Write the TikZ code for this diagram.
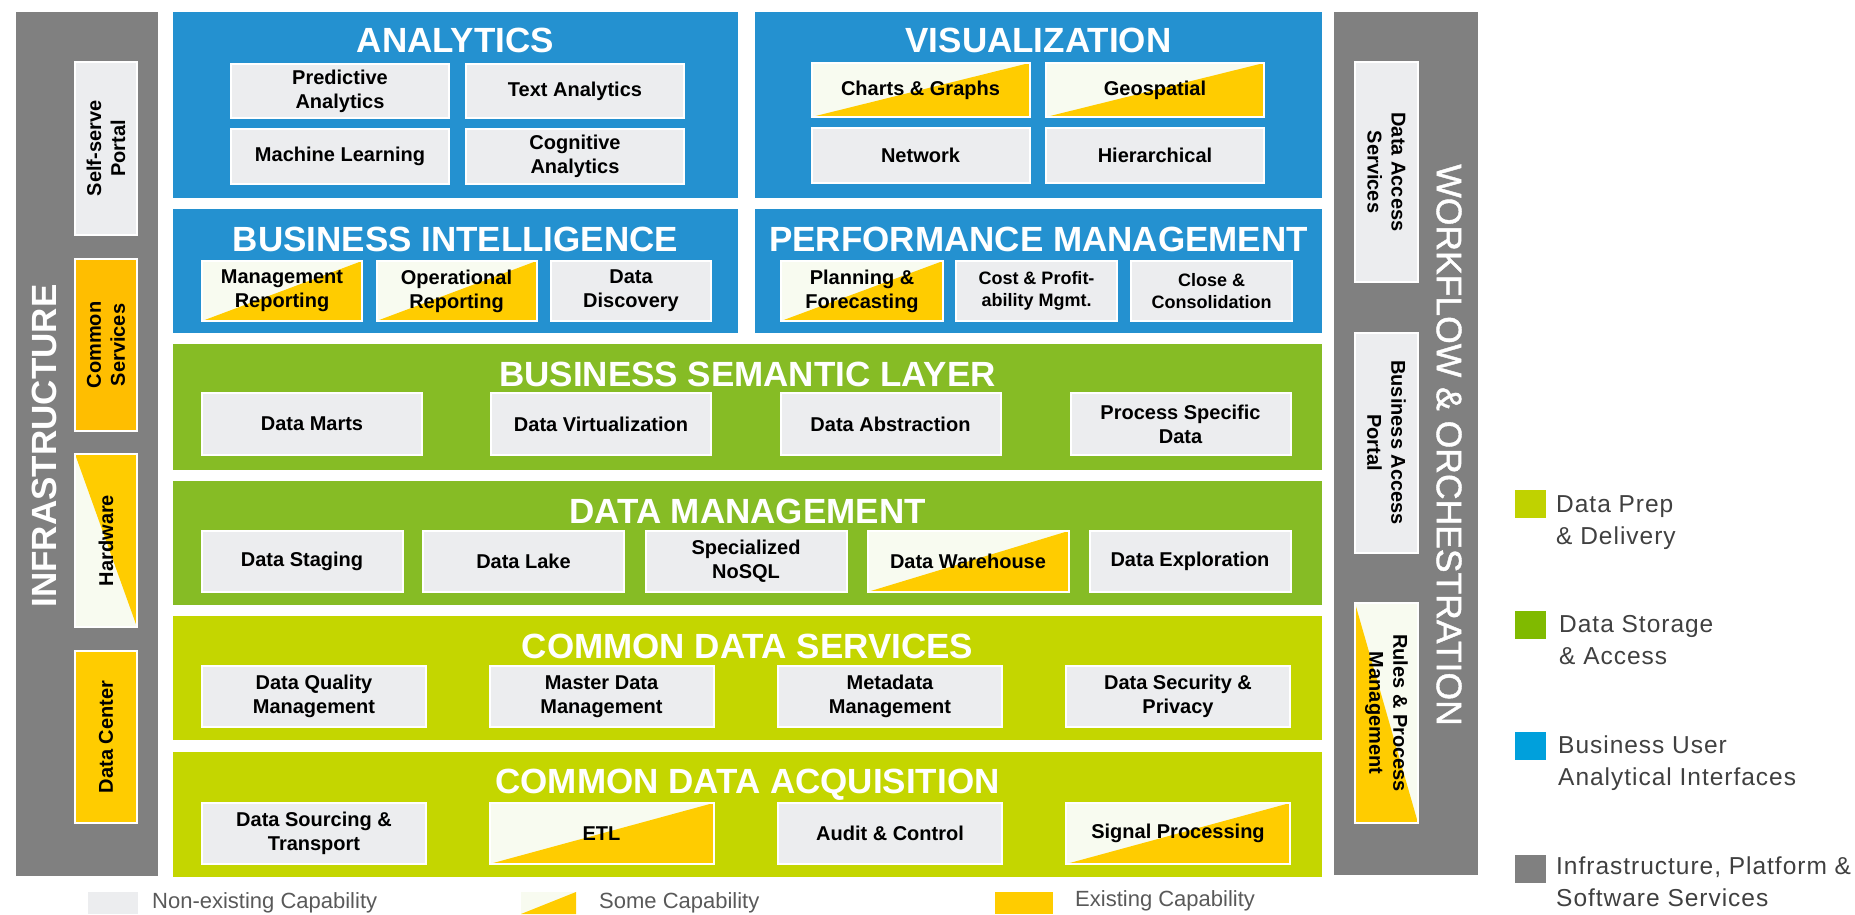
\documentclass[tikz,border=0pt]{standalone}
\usepackage{fontspec}
\setmainfont{Liberation Sans}
\newfontfamily\legendfont[LetterSpace=4]{Liberation Sans}
\newfontfamily\barfont[FakeBold=1.2]{Liberation Sans}
\usetikzlibrary{positioning}

\definecolor{panelblue}{RGB}{36,145,208}
\definecolor{layergreen}{RGB}{134,188,37}
\definecolor{layerlime}{RGB}{196,214,0}
\definecolor{bargray}{RGB}{128,128,128}
\definecolor{boxgray}{RGB}{236,237,239}
\definecolor{capyellow}{RGB}{255,204,0}
\definecolor{svcorange}{RGB}{255,190,0}
\definecolor{somewhite}{RGB}{248,251,240}
\definecolor{leglime}{RGB}{192,210,0}
\definecolor{leggreen}{RGB}{128,186,0}
\definecolor{legblue}{RGB}{0,160,220}
\definecolor{legtext}{RGB}{64,64,64}
\definecolor{captext}{RGB}{89,89,89}

\begin{document}
\begin{tikzpicture}[x=1pt, y=-1pt,
    panel/.style={rectangle, inner sep=0pt},
    title/.style={text=white, font=\bfseries\fontsize{35}{42}\selectfont, inner sep=0pt, anchor=base},
    box/.style={rectangle, draw=white, line width=2pt, fill=boxgray, align=center, inner sep=2pt,
        font=\bfseries\fontsize{20}{24}\selectfont},
    somecap/.style n args={3}{box, fill=somewhite,
        path picture={\fill[capyellow] (path picture bounding box.#1) -- (path picture bounding box.#2)
            -- (path picture bounding box.#3) -- cycle;}},
    some/.style={somecap={south west}{north east}{south east}},
    small/.style={font=\bfseries\fontsize{18}{22}\selectfont},
    legsq/.style={rectangle, inner sep=0pt, minimum width=31, minimum height=28},
    legtxt/.style={anchor=north west, align=left, inner sep=0pt, text=legtext,
        font=\legendfont\fontsize{24.5}{32}\selectfont},
    capsq/.style={rectangle, inner sep=0pt, minimum width=50, minimum height=22},
    captxt/.style={anchor=west, inner sep=0pt, text=captext, font=\fontsize{22}{26}\selectfont}]

    \useasboundingbox (0,0) rectangle (1855,915);

    % Side bars
    \node[panel, fill=bargray, minimum width=142, minimum height=864] (infra) at (87,444) {};
    \node[rotate=90, inner sep=0pt, text=white, font=\bfseries\fontsize{35}{42}\selectfont] (infraTxt) at (44,446) {INFRASTRUCTURE};
    \node[panel, fill=bargray, minimum width=144, minimum height=863] (workflow) at (1406,443.5) {};
    \node[rotate=-90, inner sep=0pt, text=white, font=\barfont\fontsize{35.5}{42}\selectfont] (workflowTxt) at (1449,445) {WORKFLOW \& ORCHESTRATION};

    % Infrastructure boxes
    \node[box, rotate=90, minimum width=173, minimum height=62] (selfserve) at (106,148.5) {Self-serve\\Portal};
    \node[box, rotate=90, fill=svcorange, minimum width=172, minimum height=62] (commonsvc) at (106,345) {Common\\Services};
    \node[somecap={north west}{south east}{north east}, rotate=90, minimum width=173, minimum height=62] (hardware) at (106,540.5) {Hardware};
    \node[box, rotate=90, fill=capyellow, minimum width=172, minimum height=62] (datacenter) at (106,737) {Data Center};

    % Workflow boxes
    \node[box, rotate=-90, minimum width=220, minimum height=63] (dataaccess) at (1386.5,172) {Data Access\\Services};
    \node[box, rotate=-90, minimum width=220, minimum height=63] (bizaccess) at (1386.5,442.5) {Business Access\\Portal};
    \node[somecap={north west}{south east}{south west}, rotate=-90, minimum width=220, minimum height=63] (rules) at (1386.5,713) {Rules \& Process\\Management};

    % Analytics
    \node[panel, fill=panelblue, minimum width=565, minimum height=186] (analytics) at (455.5,105) {};
    \node[title] (analyticsTitle) at (455.5,53) {ANALYTICS};
    \foreach \name/\x/\y/\txt in {pred/340/91/{Predictive\\Analytics}, textan/575/91/Text Analytics,
        ml/340/156.5/Machine Learning, cogn/575/156.5/{Cognitive\\Analytics}}
        \node[box, minimum width=218, minimum height=54] (\name) at (\x,\y) {\txt};

    % Visualization
    \node[panel, fill=panelblue, minimum width=567, minimum height=186] (visual) at (1038.5,105) {};
    \node[title] (visualTitle) at (1038.5,53) {VISUALIZATION};
    \node[some, minimum width=218, minimum height=54] (charts) at (920.5,90) {Charts \& Graphs};
    \node[some, minimum width=218, minimum height=54] (geo) at (1155,90) {Geospatial};
    \node[box, minimum width=218, minimum height=54] (network) at (920.5,155.5) {Network};
    \node[box, minimum width=218, minimum height=54] (hier) at (1155,155.5) {Hierarchical};

    % Business intelligence
    \node[panel, fill=panelblue, minimum width=565, minimum height=124] (bi) at (455.5,271) {};
    \node[title] (biTitle) at (455.5,251) {BUSINESS INTELLIGENCE};
    \node[some, minimum width=160, minimum height=60] (mgmtrep) at (282,291) {Management\\Reporting};
    \node[some, minimum width=160, minimum height=60] (oprep) at (456.5,291) {Operational\\Reporting};
    \node[box, minimum width=160, minimum height=60] (discovery) at (631,291) {Data\\Discovery};

    % Performance management
    \node[panel, fill=panelblue, minimum width=567, minimum height=124] (perf) at (1038.5,271) {};
    \node[title] (perfTitle) at (1038.5,251) {PERFORMANCE MANAGEMENT};
    \node[some, minimum width=162, minimum height=60] (planning) at (862,291) {Planning \&\\Forecasting};
    \node[box, small, minimum width=161, minimum height=60] (costprof) at (1036.5,291) {Cost \& Profit-\\ability Mgmt.};
    \node[box, small, minimum width=161, minimum height=60] (closecons) at (1211.5,291) {Close \&\\Consolidation};

    % Business semantic layer
    \node[panel, fill=layergreen, minimum width=1149, minimum height=126] (semantic) at (747.5,407) {};
    \node[title] (semanticTitle) at (747.5,386.5) {BUSINESS SEMANTIC LAYER};
    \foreach \name/\x/\txt in {marts/312/Data Marts, virt/601/Data Virtualization,
        abstr/890.5/Data Abstraction, procdata/1180.5/{Process Specific\\Data}}
        \node[box, minimum width=220, minimum height=62] (\name) at (\x,424) {\txt};

    % Data management
    \node[panel, fill=layergreen, minimum width=1149, minimum height=124] (datamgmt) at (747.5,543) {};
    \node[title] (datamgmtTitle) at (747.5,523) {DATA MANAGEMENT};
    \foreach \name/\x/\txt in {staging/302/Data Staging, lake/523.5/Data Lake,
        nosql/746/{Specialized\\NoSQL}, explore/1190/Data Exploration}
        \node[box, minimum width=201, minimum height=61] (\name) at (\x,561.5) {\txt};
    \node[some, minimum width=201, minimum height=61] (warehouse) at (968,561.5) {Data Warehouse};

    % Common data services
    \node[panel, fill=layerlime, minimum width=1149, minimum height=124] (dataserv) at (747.5,678) {};
    \node[title] (dataservTitle) at (747.5,658) {COMMON DATA SERVICES};
    \foreach \name/\x/\txt in {quality/314/{Data Quality\\Management}, master/601.5/{Master Data\\Management},
        meta/890/{Metadata\\Management}, security/1178/{Data Security \&\\Privacy}}
        \node[box, minimum width=224, minimum height=61] (\name) at (\x,696.5) {\txt};

    % Common data acquisition
    \node[panel, fill=layerlime, minimum width=1149, minimum height=125] (dataacq) at (747.5,814.5) {};
    \node[title] (dataacqTitle) at (747.5,793) {COMMON DATA ACQUISITION};
    \node[box, minimum width=224, minimum height=61] (sourcing) at (314,833.5) {Data Sourcing \&\\Transport};
    \node[some, minimum width=224, minimum height=61] (etl) at (601.5,833.5) {ETL};
    \node[box, minimum width=224, minimum height=61] (audit) at (890,833.5) {Audit \& Control};
    \node[some, minimum width=224, minimum height=61] (signal) at (1178,833.5) {Signal Processing};

    % Colour legend
    \node[legsq, fill=leglime] (lgPrep) at (1530.5,504) {};
    \node[legtxt] (lgPrepTxt) at (1556,495) {Data Prep\\\& Delivery};
    \node[legsq, fill=leggreen] (lgStore) at (1530.5,624.5) {};
    \node[legtxt] (lgStoreTxt) at (1559,615) {Data Storage\\\& Access};
    \node[legsq, fill=legblue] (lgUser) at (1530.5,746) {};
    \node[legtxt] (lgUserTxt) at (1558,736) {Business User\\Analytical Interfaces};
    \node[legsq, fill=bargray] (lgInfra) at (1530.5,869) {};
    \node[legtxt] (lgInfraTxt) at (1556,856.5) {Infrastructure, Platform \&\\Software Services};

    % Capability legend
    \node[capsq, fill=boxgray] (lgNone) at (113,903) {};
    \node[captxt] (lgNoneTxt) at (152,903) {Non-existing Capability};
    \node[some, draw=none, inner sep=0pt, minimum width=55, minimum height=22] (lgSome) at (548.5,903) {};
    \node[captxt] (lgSomeTxt) at (599,903) {Some Capability};
    \node[capsq, fill=capyellow, minimum width=58] (lgFull) at (1024,902.5) {};
    \node[captxt] (lgFullTxt) at (1075,901) {Existing Capability};
\end{tikzpicture}
\end{document}
